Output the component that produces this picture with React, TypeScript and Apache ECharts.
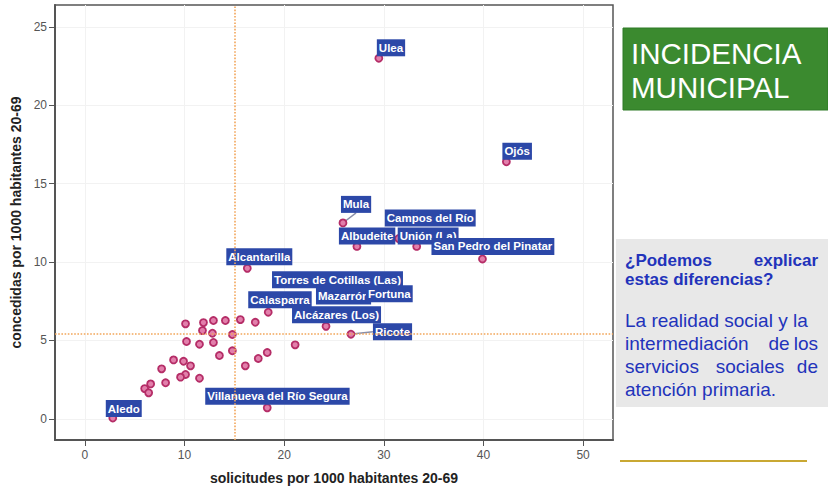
import React, { useEffect, useRef } from "react";
import * as echarts from "echarts";

// Labeled municipalities
const labeledNames = [
  "Ulea", "Ojós", "Mula", "Campos del Río", "Albudeite", "Unión (La)",
  "San Pedro del Pinatar", "Alcantarilla", "Torres de Cotillas (Las)", "Mazarrón",
  "Fortuna", "Calasparra", "Alcázares (Los)", "Ricote", "Villanueva del Río Segura", "Aledo",
];
const labeledX = [29.5, 42.3, 25.9, 31.5, 27.3, 33.3, 39.9, 16.3, 24.4, 25.6, 27.5, 18.4, 24.2, 26.7, 18.3, 2.8];
const labeledY = [23.0, 16.4, 12.5, 11.5, 11.0, 11.0, 10.2, 9.6, 8.2, 8.0, 8.2, 6.8, 5.9, 5.4, 0.7, 0.05];

// Unlabeled municipalities
const otherX = [10.1, 11.9, 12.9, 14.1, 15.6, 17.1, 11.8, 12.8, 14.8, 10.2, 11.5, 12.9, 21.1, 14.8, 13.5, 18.3, 17.4, 16.1, 8.9, 9.9, 10.6, 7.7, 10.1, 9.6, 11.5, 8.1, 6.6, 6.0, 6.4];
const otherY = [6.06, 6.14, 6.27, 6.27, 6.33, 6.16, 5.63, 5.46, 5.38, 4.93, 4.76, 4.87, 4.72, 4.34, 4.04, 4.23, 3.85, 3.38, 3.76, 3.67, 3.38, 3.19, 2.83, 2.66, 2.59, 2.30, 2.23, 1.93, 1.66];

const xTicks = [0, 10, 20, 30, 40, 50];
const yTicks = [0, 5, 10, 15, 20, 25];
const meanX = 15;
const meanY = 5.4;

// Label box placement (pixel offsets of box bottom-left from the point)
const labelOffsets: [number, number][] = [
  [-2, -2], [-4, -2], [-2, -10], [-14, -12], [-18, -2], [-19, -2],
  [-51, -4], [-21, -3], [-56, -2], [-24, 11], [7, 12], [-20, -4],
  [-34, -3], [22, 6], [-62, -3], [-7, -1],
];
const leaderLines = ["Mula", "Ricote"];

const xTitle = "solicitudes por 1000 habitantes 20-69";
const yTitle = "concedidas por 1000 habitantes 20-69";
const panelTitle = ["INCIDENCIA", "MUNICIPAL"];

export default function App() {
  const ref = useRef<HTMLDivElement>(null);
  useEffect(() => {
    document.body.style.margin = "0";
    const chart = echarts.init(ref.current!, null, { renderer: "svg" });
    const pointStyle = {
      color: "#e27fab",
      borderColor: "#b52d67",
      borderWidth: 1.8,
      opacity: 1,
    };
    const labeledData = labeledNames.map((n, i) => ({
      name: n,
      value: [labeledX[i], labeledY[i]],
      label: {
        show: true,
        formatter: n,
        position: "inside",
        align: "left",
        verticalAlign: "bottom",
        offset: labelOffsets[i],
        color: "#ffffff",
        fontWeight: "bold",
        fontSize: 11.5,
        fontFamily: "Liberation Sans, Arial, sans-serif",
        backgroundColor: "#2c48a8",
        padding: [2, 2, 2, 2],
        lineHeight: 13,
      },
      labelLine: leaderLines.includes(n)
        ? { show: true, lineStyle: { color: "#8a8fa8", width: 1.5 } }
        : { show: false },
    }));
    const otherData = otherX.map((x, i) => [x, otherY[i]]);
    const blue = "#2233bb";
    const textFont = "Liberation Sans, Arial, sans-serif";
    chart.setOption({
      animation: false,
      backgroundColor: "#ffffff",
      grid: {
        left: 55, top: 5, right: 215, bottom: 53,
        show: true, borderColor: "#555555", borderWidth: 1.5,
        backgroundColor: "#ffffff",
      },
      xAxis: {
        type: "value", min: -3, max: 53,
        name: xTitle, nameLocation: "middle", nameGap: 31,
        nameTextStyle: { fontWeight: "bold", fontSize: 14, color: "#222", fontFamily: textFont },
        axisLine: { onZero: false, lineStyle: { color: "#555", width: 2 } },
        axisTick: { show: true, length: 6, customValues: xTicks, lineStyle: { color: "#555" } },
        axisLabel: { customValues: xTicks, color: "#555", fontSize: 12, margin: 9, fontFamily: textFont },
        splitLine: { show: true, lineStyle: { color: "#f2f2f2", width: 1 } },
      },
      yAxis: {
        type: "value", min: -1.35, max: 26.4,
        name: yTitle, nameLocation: "middle", nameGap: 32,
        nameTextStyle: { fontWeight: "bold", fontSize: 14, color: "#222", fontFamily: textFont },
        axisLine: { show: true, onZero: false, lineStyle: { color: "#555", width: 2 } },
        axisTick: { show: true, length: 6, customValues: yTicks, lineStyle: { color: "#555" } },
        axisLabel: { customValues: yTicks, color: "#555", fontSize: 12, margin: 8, fontFamily: textFont },
        splitLine: { show: true, lineStyle: { color: "#f2f2f2", width: 1 } },
      },
      series: [
        {
          type: "scatter",
          symbol: "circle",
          symbolSize: 7,
          itemStyle: pointStyle,
          data: otherData,
          markLine: {
            silent: true,
            symbol: "none",
            label: { show: false },
            lineStyle: { color: "#f2a65a", type: "dotted", width: 1.6 },
            data: [{ xAxis: meanX }, { yAxis: meanY }],
          },
          z: 2,
        },
        {
          type: "scatter",
          symbol: "circle",
          symbolSize: 7,
          itemStyle: pointStyle,
          data: labeledData,
          z: 3,
        },
      ],
      graphic: [
        {
          type: "rect",
          shape: { x: 623, y: 28, width: 205, height: 82 },
          style: { fill: "#3b8a2f", stroke: "#2f7a26", lineWidth: 1 },
        },
        {
          type: "text", x: 631, y: 53,
          style: { text: panelTitle[0], fill: "#ffffff", font: `29.5px ${textFont}`, verticalAlign: "middle" },
        },
        {
          type: "text", x: 631, y: 87,
          style: { text: panelTitle[1], fill: "#ffffff", font: `29.5px ${textFont}`, verticalAlign: "middle" },
        },
        {
          type: "rect",
          shape: { x: 616, y: 239, width: 212, height: 168 },
          style: { fill: "#e8e8e8" },
        },
        { type: "text", x: 625, y: 260, style: { text: "¿Podemos", fill: blue, font: `bold 17px ${textFont}`, verticalAlign: "middle" } },
        { type: "text", x: 818, y: 260, style: { text: "explicar", fill: blue, font: `bold 17px ${textFont}`, verticalAlign: "middle", align: "right" } },
        { type: "text", x: 625, y: 279, style: { text: "estas diferencias?", fill: blue, font: `bold 17px ${textFont}`, verticalAlign: "middle" } },
        { type: "text", x: 625, y: 320, style: { text: "La realidad social y la", fill: blue, font: `19px ${textFont}`, verticalAlign: "middle" } },
        { type: "text", x: 625, y: 343, style: { text: "intermediación", fill: blue, font: `19px ${textFont}`, verticalAlign: "middle" } },
        { type: "text", x: 779, y: 343, style: { text: "de", fill: blue, font: `19px ${textFont}`, verticalAlign: "middle", align: "center" } },
        { type: "text", x: 818, y: 343, style: { text: "los", fill: blue, font: `19px ${textFont}`, verticalAlign: "middle", align: "right" } },
        { type: "text", x: 625, y: 366, style: { text: "servicios", fill: blue, font: `19px ${textFont}`, verticalAlign: "middle" } },
        { type: "text", x: 750, y: 366, style: { text: "sociales", fill: blue, font: `19px ${textFont}`, verticalAlign: "middle", align: "center" } },
        { type: "text", x: 818, y: 366, style: { text: "de", fill: blue, font: `19px ${textFont}`, verticalAlign: "middle", align: "right" } },
        { type: "text", x: 625, y: 389, style: { text: "atención primaria.", fill: blue, font: `19px ${textFont}`, verticalAlign: "middle" } },
        {
          type: "line",
          shape: { x1: 620, y1: 461, x2: 807, y2: 461 },
          style: { stroke: "#c9a833", lineWidth: 2 },
        },
      ],
    });
    return () => chart.dispose();
  }, []);
  return <div ref={ref} style={{ width: 828, height: 493 }} />;
}
